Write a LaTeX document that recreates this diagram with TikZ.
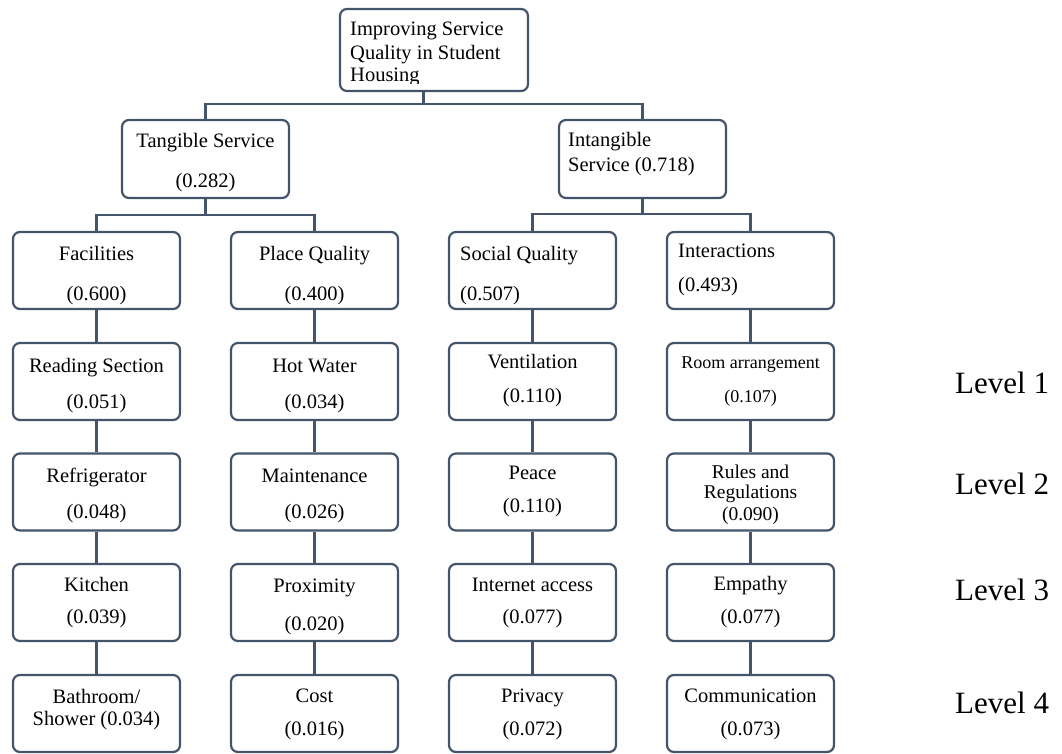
\documentclass[tikz,border=0pt]{standalone}
\usepackage{fontspec}
\setmainfont{Liberation Serif}
\definecolor{ln}{HTML}{44546A}
\begin{document}
\begin{tikzpicture}[x=1pt,y=-1pt,
  box/.style={draw=ln, line width=2.2pt, rounded corners=7pt, minimum width=167pt, minimum height=77pt, inner sep=0pt, fill=white},
  conn/.style={draw=ln, line width=2.2pt},
  t/.style={inner sep=0pt, anchor=base, font=\fontsize{20.5}{24}\selectfont},
  tl/.style={t, anchor=base west},
  ts/.style={t, font=\fontsize{18}{22}\selectfont},
  tm/.style={t, font=\fontsize{19.5}{22}\selectfont},
  lvl/.style={inner sep=0pt, anchor=base west, font=\fontsize{31}{36}\selectfont}]
\useasboundingbox (0,0) rectangle (1062,754);

% ---------- boxes ----------
\node[box, minimum width=188pt, minimum height=82pt] (top) at (434,50) {};
\node[box, minimum height=78pt] (tang) at (205.5,159) {};
\node[box, minimum height=78pt] (intang) at (642.5,159) {};

\node[box] (fac) at (96.5,270.5) {};
\node[box] (pq)  at (314.5,270.5) {};
\node[box] (sq)  at (532.5,270.5) {};
\node[box] (int) at (750.5,270.5) {};

\node[box] (rs)  at (96.5,381.5) {};
\node[box] (hw)  at (314.5,381.5) {};
\node[box] (ven) at (532.5,381.5) {};
\node[box] (ra)  at (750.5,381.5) {};

\node[box] (ref) at (96.5,492) {};
\node[box] (mai) at (314.5,492) {};
\node[box] (pea) at (532.5,492) {};
\node[box] (rr)  at (750.5,492) {};

\node[box] (kit) at (96.5,602.5) {};
\node[box] (pro) at (314.5,602.5) {};
\node[box] (ia)  at (532.5,602.5) {};
\node[box] (emp) at (750.5,602.5) {};

\node[box] (bat) at (96.5,713.5) {};
\node[box] (cos) at (314.5,713.5) {};
\node[box] (pri) at (532.5,713.5) {};
\node[box] (com) at (750.5,713.5) {};

% ---------- connectors ----------
\coordinate (topj) at (423.5,104);
\coordinate (tj) at (205.5,215);
\coordinate (ij) at (642.5,214);
\draw[conn] (top.south -| topj) -- (topj);
\draw[conn] (tang.north) |- (topj) -| (intang.north);
\draw[conn] (tang.south) -- (tj);
\draw[conn] (fac.north) |- (tj) -| (pq.north);
\draw[conn] (intang.south) -- (ij);
\draw[conn] (sq.north) |- (ij) -| (int.north);

\foreach \a/\b in {fac/rs,rs/ref,ref/kit,kit/bat,
                   pq/hw,hw/mai,mai/pro,pro/cos,
                   sq/ven,ven/pea,pea/ia,ia/pri,
                   int/ra,ra/rr,rr/emp,emp/com}
  \draw[conn] (\a.south) -- (\b.north);

% ---------- texts ----------
\begin{scope}
\clip (339,8) rectangle (529,83.5);
\node[tl] (topa) at (350,36) {Improving Service};
\node[tl] (topb) at (350,60) {Quality in Student};
\node[tl] (topc) at (350,82) {Housing};
\end{scope}

\node[t] (tanga) at (205.5,148) {Tangible Service};
\node[t] (tangb) at (205.5,187) {(0.282)};
\node[tl] (intanga) at (568,147) {Intangible};
\node[tl] (intangb) at (568,172) {Service (0.718)};

\node[t] (faca) at (96.5,260) {Facilities};
\node[t] (facb) at (96.5,300) {(0.600)};
\node[t] (pqa) at (314.5,260) {Place Quality};
\node[t] (pqb) at (314.5,300) {(0.400)};
\node[tl] (sqa) at (460,260) {Social Quality};
\node[tl] (sqb) at (460,300) {(0.507)};
\node[tl] (inta) at (678,257) {Interactions};
\node[tl] (intb) at (678,291) {(0.493)};

\node[t] (rsa) at (96.5,372) {Reading Section};
\node[t] (rsb) at (96.5,408) {(0.051)};
\node[t] (hwa) at (314.5,372) {Hot Water};
\node[t] (hwb) at (314.5,408) {(0.034)};
\node[t] (vena) at (532.5,368) {Ventilation};
\node[t] (venb) at (532.5,402) {(0.110)};
\node[ts] (raa) at (750.5,368) {Room arrangement};
\node[ts] (rab) at (750.5,402) {(0.107)};

\node[t] (refa) at (96.5,482) {Refrigerator};
\node[t] (refb) at (96.5,518) {(0.048)};
\node[t] (maia) at (314.5,482) {Maintenance};
\node[t] (maib) at (314.5,518) {(0.026)};
\node[t] (peaa) at (532.5,479) {Peace};
\node[t] (peab) at (532.5,512) {(0.110)};
\node[tm] (rra) at (750.5,478) {Rules and};
\node[tm] (rrb) at (750.5,498) {Regulations};
\node[tm] (rrc) at (750.5,520) {(0.090)};

\node[t] (kita) at (96.5,591) {Kitchen};
\node[t] (kitb) at (96.5,623) {(0.039)};
\node[t] (proa) at (314.5,592) {Proximity};
\node[t] (prob) at (314.5,630) {(0.020)};
\node[t] (iaa) at (532.5,591) {Internet access};
\node[t] (iab) at (532.5,623) {(0.077)};
\node[t] (empa) at (750.5,590) {Empathy};
\node[t] (empb) at (750.5,623) {(0.077)};

\node[t] (bata) at (96.5,703) {Bathroom/};
\node[t] (batb) at (96.5,725) {Shower (0.034)};
\node[t] (cosa) at (314.5,702) {Cost};
\node[t] (cosb) at (314.5,735) {(0.016)};
\node[t] (pria) at (532.5,702) {Privacy};
\node[t] (prib) at (532.5,735) {(0.072)};
\node[t] (coma) at (750.5,702) {Communication};
\node[t] (comb) at (750.5,735) {(0.073)};

% ---------- level labels ----------
\node[lvl] (l1) at (955,393) {Level 1};
\node[lvl] (l2) at (955,494) {Level 2};
\node[lvl] (l3) at (955,600) {Level 3};
\node[lvl] (l4) at (955,713) {Level 4};
\end{tikzpicture}
\end{document}
